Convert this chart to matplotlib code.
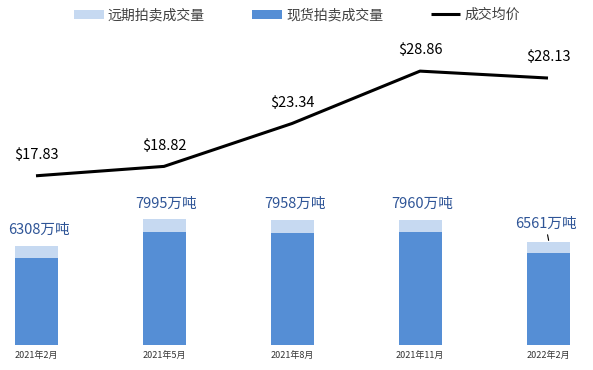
import matplotlib
matplotlib.use('Agg')
import matplotlib.pyplot as plt
import numpy as np

plt.rcParams['font.family'] = ['Noto Sans CJK SC', 'DejaVu Sans']

# data
months = ['2021年2月', '2021年5月', '2021年8月', '2021年11月', '2022年2月']
totals = [6308, 7995, 7958, 7960, 6561]      # 万吨, total volume
spot = [5520, 7190, 7100, 7170, 5840]        # 现货拍卖成交量
forward = [t - s for t, s in zip(totals, spot)]  # 远期拍卖成交量
price = [17.83, 18.82, 23.34, 28.86, 28.13]  # 成交均价 $

dark_blue = '#558ED5'
light_blue = '#C6D9F1'
label_blue = '#2F5597'

fig = plt.figure(figsize=(5.93, 3.70), dpi=100)
W, H = 593, 370
bottom_px = 345
top_px = 30
ax = fig.add_axes([0, (H - bottom_px) / H, 1, (bottom_px - top_px) / H])

x = np.arange(len(months))
bw = 43 / 128
ax.bar(x, spot, width=bw, color=dark_blue, label='现货拍卖成交量', zorder=2)
ax.bar(x, forward, width=bw, bottom=spot, color=light_blue, label='远期拍卖成交量', zorder=2)
ax.set_xlim(-36 / 128, (W - 36) / 128)
ax.set_ylim(0, 20000)
ax.set_xticks(x)
ax.set_xticklabels(months, fontsize=6.5, color='#333333')
ax.tick_params(axis='x', length=0, pad=4)
ax.set_yticks([])
for s in ax.spines.values():
    s.set_visible(False)

for i, t in enumerate(totals):
    if i == len(totals) - 1:
        ax.annotate(f'{t}万吨', xy=(x[i] + 0.005, t + 80), xytext=(x[i] - 0.02, t + 700),
                    ha='center', va='bottom', fontsize=10.5, color=label_blue,
                    arrowprops=dict(arrowstyle='-', color='black', lw=0.8, shrinkA=1, shrinkB=0))
    else:
        ax.text(x[i] + 0.02, t + 550, f'{t}万吨', ha='center', va='bottom',
                fontsize=10.5, color=label_blue)

# price line on a second y scale
ax2 = ax.twinx()
ax2.plot(x, price, color='black', lw=2.2, label='成交均价', solid_capstyle='butt')
ax2.set_ylim(0, (bottom_px - top_px) / 9.49)
ax2.set_yticks([])
for s in ax2.spines.values():
    s.set_visible(False)
for i, p in enumerate(price):
    ax2.text(x[i], p + 1.45, f'${p:.2f}', ha='center', va='bottom', fontsize=10.5, color='black')

h1, l1 = ax.get_legend_handles_labels()
h2, l2 = ax2.get_legend_handles_labels()
handles = [h1[1], h1[0], h2[0]]
labels = [l1[1], l1[0], l2[0]]
fig.legend(handles, labels, loc='center', bbox_to_anchor=(297 / W, 1 - 15 / H), ncol=3,
           frameon=False, fontsize=10, handlelength=2.15, handleheight=0.6,
           handletextpad=0.3, columnspacing=3.4, labelcolor='#404040')

fig.savefig('out.png', dpi=100)
